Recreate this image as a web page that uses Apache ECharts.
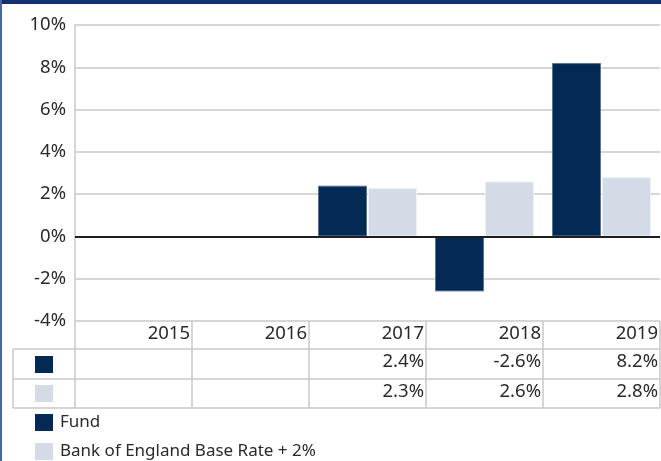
<!DOCTYPE html>
<html><head><meta charset="utf-8">
<script src="https://cdn.jsdelivr.net/npm/echarts@6/dist/echarts.min.js"></script>
<style>html,body{margin:0;padding:0;background:#fff}#c{width:661px;height:461px}</style>
</head><body><div id="c"></div>
<script>
const categories = ['2015', '2016', '2017', '2018', '2019'];
const fundValues = [null, null, 2.4, -2.6, 8.2];
const benchValues = [null, null, 2.3, 2.6, 2.8];
const seriesNames = ['Fund', 'Bank of England Base Rate + 2%'];
const yTicks = { min: -4, max: 10, interval: 2 };

const FONT = 'Noto Sans';
const NUM_SIZE = 18.5, TXT_SIZE = 17;
const C_FUND = '#032a55', C_BENCH = '#d3dbe7', C_GRID = '#c8c8c8', C_TEXT = '#2a2a2a';
const chart = echarts.init(document.getElementById('c'), null, { renderer: 'canvas' });

const fmt = v => (v == null ? '' : v.toFixed(1) + '%');

chart.setOption({
  animation: false,
  textStyle: { fontFamily: FONT },
  grid: { left: 75, right: 1, top: 25, bottom: 140, containLabel: false },
  legend: {
    orient: 'vertical', left: 35, top: 414, height: 80, itemWidth: 18, itemHeight: 17, itemGap: 12,
    icon: 'rect', padding: 0, itemStyle: { borderWidth: 0 },
    textStyle: { fontFamily: FONT, fontSize: TXT_SIZE, color: C_TEXT, padding: [0, 0, 0, 2] },
    data: seriesNames
  },
  xAxis: {
    type: 'category', data: categories,
    axisLine: { show: false }, axisTick: { show: false }, axisLabel: { show: false },
    splitLine: { show: false }
  },
  yAxis: {
    type: 'value', min: yTicks.min, max: yTicks.max, interval: yTicks.interval,
    axisLine: { show: true, lineStyle: { color: C_GRID, width: 1.5 } },
    axisTick: { show: false },
    axisLabel: { formatter: v => v + '%', fontFamily: FONT, fontSize: NUM_SIZE, color: C_TEXT, margin: 9 },
    splitLine: { lineStyle: { color: C_GRID, width: 1.5 } }
  },
  series: [
    { name: seriesNames[0], type: 'bar', data: fundValues, barWidth: 49, barGap: '2%',
      itemStyle: { color: C_FUND, borderColor: '#5d7394', borderWidth: 1 } },
    { name: seriesNames[1], type: 'bar', data: benchValues, barWidth: 49,
      itemStyle: { color: C_BENCH, borderColor: '#edf1f6', borderWidth: 1 },
      markLine: { silent: true, symbol: 'none', label: { show: false },
        lineStyle: { color: '#1e1e1e', width: 2, type: 'solid' }, data: [{ yAxis: 0 }] } }
  ]
});

// table below the plot, aligned with the category axis
const c0 = chart.convertToPixel({ xAxisIndex: 0 }, 0);
const c1 = chart.convertToPixel({ xAxisIndex: 0 }, 1);
const band = c1 - c0;
const yBottom = chart.convertToPixel({ yAxisIndex: 0 }, yTicks.min);
const gridLeft = c0 - band / 2;
const gridRight = gridLeft + band * categories.length;
const tableLeft = 13, row1Top = 349, row2Top = 379, tableBottom = 408;
const lineStyle = { stroke: C_GRID, lineWidth: 1.5 };
const g = [];
const hline = (x1, x2, y) => g.push({ type: 'line', shape: { x1, y1: y, x2, y2: y }, style: lineStyle, silent: true });
const vline = (x, y1, y2) => g.push({ type: 'line', shape: { x1: x, y1, x2: x, y2 }, style: lineStyle, silent: true });
hline(tableLeft, gridRight, row1Top);
hline(tableLeft, gridRight, row2Top);
hline(tableLeft, gridRight, tableBottom);
vline(tableLeft, row1Top, tableBottom);
vline(gridLeft, yBottom, tableBottom);
for (let i = 1; i <= categories.length; i++) vline(gridLeft + band * i, yBottom, tableBottom);
const textBase = { fontFamily: FONT, fontSize: NUM_SIZE, fill: C_TEXT, textAlign: 'right', textVerticalAlign: 'middle' };
categories.forEach((cat, i) => {
  const xr = gridLeft + band * (i + 1) - 2;
  g.push({ type: 'text', x: xr, y: (yBottom + row1Top) / 2 - 1, style: Object.assign({ text: cat }, textBase), silent: true });
  g.push({ type: 'text', x: xr, y: (row1Top + row2Top) / 2 - 2, style: Object.assign({ text: fmt(fundValues[i]) }, textBase), silent: true });
  g.push({ type: 'text', x: xr, y: (row2Top + tableBottom) / 2 - 2, style: Object.assign({ text: fmt(benchValues[i]) }, textBase), silent: true });
});
g.push({ type: 'rect', shape: { x: 35, y: 356, width: 18, height: 17 }, style: { fill: C_FUND }, silent: true });
g.push({ type: 'rect', shape: { x: 35, y: 385, width: 18, height: 17 }, style: { fill: C_BENCH }, silent: true });
// frame
g.push({ type: 'rect', shape: { x: 0, y: 0, width: 661, height: 4 }, style: { fill: '#12306c' }, silent: true });
g.push({ type: 'rect', shape: { x: 0, y: 0, width: 2, height: 461 }, style: { fill: '#4a65a0' }, silent: true });
chart.setOption({ graphic: g });
</script></body></html>
